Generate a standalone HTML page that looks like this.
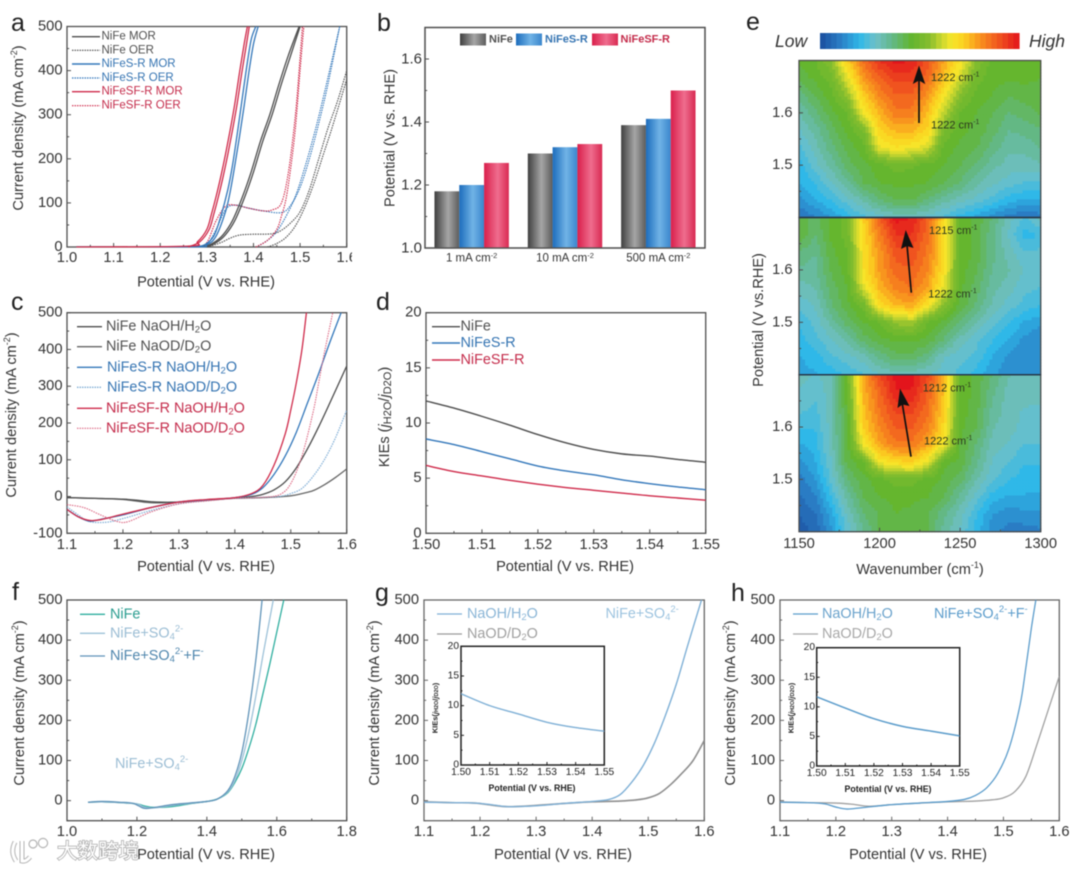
<!DOCTYPE html>
<html lang="en">
<head>
<meta charset="utf-8">
<title>NiFe electrocatalyst figure</title>
<style>
html,body{margin:0;padding:0;background:#fff;width:1080px;height:871px;overflow:hidden}
#figure{display:block;filter:blur(0.45px)}
text{font-family:"Liberation Sans","Noto Sans CJK SC",sans-serif;fill:#333}
.t14{font-size:14.6px}
.leg-a{font-size:11.5px}
.leg-c{font-size:14.4px}
.heat{font-size:11px;fill:#2c3a20}
.letter{font-size:25px;fill:#222}
.gray{fill:#505050}.blue{fill:#3574b2}.red{fill:#c42c4b}
</style>
</head>
<body>
<svg id="figure" xmlns="http://www.w3.org/2000/svg" width="1080" height="871" viewBox="0 0 1080 871">
<defs>
<linearGradient id="gBarGray"><stop offset="0" stop-color="#3f3f3f"/><stop offset=".55" stop-color="#a6a6a6"/><stop offset="1" stop-color="#5c5c5c"/></linearGradient>
<linearGradient id="gBarBlue"><stop offset="0" stop-color="#1d6cbc"/><stop offset=".55" stop-color="#70b3e6"/><stop offset="1" stop-color="#3a86cd"/></linearGradient>
<linearGradient id="gBarRed"><stop offset="0" stop-color="#d91f4b"/><stop offset=".55" stop-color="#ef6d8e"/><stop offset="1" stop-color="#d92a52"/></linearGradient>
</defs>
<g id="layer-heat"></g>
<g id="layer-plots"></g>

<rect x="352" y="250" width="20" height="18" fill="#fff"/>

<!-- panel letters -->
<text class="letter" x="11" y="31">a</text>
<text class="letter" x="377" y="31">b</text>
<text class="letter" x="11" y="310">c</text>
<text class="letter" x="376" y="310">d</text>
<text class="letter" x="746" y="30">e</text>
<text class="letter" x="12" y="600">f</text>
<text class="letter" x="375" y="601">g</text>
<text class="letter" x="731" y="601">h</text>

<!-- axis titles -->
<text class="t14" x="206" y="282.5" text-anchor="middle" dominant-baseline="central">Potential (V vs. RHE)</text>
<text class="t14" transform="translate(19,128) rotate(-90)" text-anchor="middle" dominant-baseline="central">Current density (mA cm<tspan dy="-5" font-size="9">-2</tspan><tspan dy="5">)</tspan></text>
<text class="t14" transform="translate(390.5,138) rotate(-90)" text-anchor="middle" dominant-baseline="central">Potential (V vs. RHE)</text>
<text class="t14" x="206" y="567" text-anchor="middle" dominant-baseline="central">Potential (V vs. RHE)</text>
<text class="t14" transform="translate(12,415) rotate(-90)" text-anchor="middle" dominant-baseline="central">Current density (mA cm<tspan dy="-5" font-size="9">-2</tspan><tspan dy="5">)</tspan></text>
<text class="t14" x="565" y="567" text-anchor="middle" dominant-baseline="central">Potential (V vs. RHE)</text>
<text class="t14" transform="translate(385,417) rotate(-90)" text-anchor="middle" dominant-baseline="central">KIEs (<tspan font-style="italic">j</tspan><tspan dy="3" font-size="11">H2O</tspan><tspan dy="-3">/</tspan><tspan font-style="italic">j</tspan><tspan dy="3" font-size="11">D2O</tspan><tspan dy="-3">)</tspan></text>
<text class="t14" x="206" y="855" text-anchor="middle" dominant-baseline="central">Potential (V vs. RHE)</text>
<text class="t14" transform="translate(20,703) rotate(-90)" text-anchor="middle" dominant-baseline="central">Current density (mA cm<tspan dy="-5" font-size="9">-2</tspan><tspan dy="5">)</tspan></text>
<text class="t14" x="563" y="855" text-anchor="middle" dominant-baseline="central">Potential (V vs. RHE)</text>
<text class="t14" transform="translate(375,703) rotate(-90)" text-anchor="middle" dominant-baseline="central">Current density (mA cm<tspan dy="-5" font-size="9">-2</tspan><tspan dy="5">)</tspan></text>
<text class="t14" x="918" y="855" text-anchor="middle" dominant-baseline="central">Potential (V vs. RHE)</text>
<text class="t14" transform="translate(731,703) rotate(-90)" text-anchor="middle" dominant-baseline="central">Current density (mA cm<tspan dy="-5" font-size="9">-2</tspan><tspan dy="5">)</tspan></text>
<text class="t14" x="920" y="570" text-anchor="middle" dominant-baseline="central">Wavenumber (cm<tspan dy="-5" font-size="9">-1</tspan><tspan dy="5">)</tspan></text>
<text class="t14" transform="translate(759,320) rotate(-90)" text-anchor="middle" dominant-baseline="central">Potential (V vs.RHE)</text>

<!-- legend a -->
<g>
<line x1="72" x2="100" y1="36.7" y2="36.7" stroke="#4d4d4d" stroke-width="1.4"/><text class="leg-a gray" x="101.5" y="36.7" dominant-baseline="central">NiFe MOR</text>
<line x1="72" x2="100" y1="50.3" y2="50.3" stroke="#4d4d4d" stroke-width="1.2" stroke-dasharray="1.5 1"/><text class="leg-a gray" x="101.5" y="50.3" dominant-baseline="central">NiFe OER</text>
<line x1="72" x2="100" y1="64" y2="64" stroke="#3377ba" stroke-width="1.4"/><text class="leg-a blue" x="101.5" y="64" dominant-baseline="central">NiFeS-R MOR</text>
<line x1="72" x2="100" y1="78" y2="78" stroke="#3377ba" stroke-width="1.2" stroke-dasharray="1.5 1"/><text class="leg-a blue" x="101.5" y="78" dominant-baseline="central">NiFeS-R OER</text>
<line x1="72" x2="100" y1="91.7" y2="91.7" stroke="#cf2a4a" stroke-width="1.4"/><text class="leg-a red" x="101.5" y="91.7" dominant-baseline="central">NiFeSF-R MOR</text>
<line x1="72" x2="100" y1="105.7" y2="105.7" stroke="#cf2a4a" stroke-width="1.2" stroke-dasharray="1.5 1"/><text class="leg-a red" x="101.5" y="105.7" dominant-baseline="central">NiFeSF-R OER</text>
</g>

<!-- legend b -->
<g>
<rect x="460" y="33.5" width="26" height="12" fill="url(#gBarGray)"/><text x="489" y="39.5" font-size="11" font-weight="bold" class="gray" dominant-baseline="central">NiFe</text>
<rect x="516" y="33.5" width="26" height="12" fill="url(#gBarBlue)"/><text x="545" y="39.5" font-size="11" font-weight="bold" class="blue" dominant-baseline="central">NiFeS-R</text>
<rect x="592" y="33.5" width="26" height="12" fill="url(#gBarRed)"/><text x="620.5" y="39.5" font-size="11" font-weight="bold" class="red" dominant-baseline="central">NiFeSF-R</text>
</g>

<!-- legend c -->
<g>
<line x1="77" x2="102" y1="326.7" y2="326.7" stroke="#4d4d4d" stroke-width="1.4"/><text class="leg-c gray" x="106" y="326.7" dominant-baseline="central">NiFe NaOH/H<tspan dy="3" font-size="9.5">2</tspan><tspan dy="-3">O</tspan></text>
<line x1="77" x2="102" y1="346.7" y2="346.7" stroke="#666" stroke-width="1.4"/><text class="leg-c gray" x="106" y="346.7" dominant-baseline="central">NiFe NaOD/D<tspan dy="3" font-size="9.5">2</tspan><tspan dy="-3">O</tspan></text>
<line x1="77" x2="102" y1="367.3" y2="367.3" stroke="#3377ba" stroke-width="1.4"/><text class="leg-c blue" x="107" y="367.3" dominant-baseline="central">NiFeS-R NaOH/H<tspan dy="3" font-size="9.5">2</tspan><tspan dy="-3">O</tspan></text>
<line x1="77" x2="102" y1="387.3" y2="387.3" stroke="#80aed6" stroke-width="1.3" stroke-dasharray="1.5 1"/><text class="leg-c blue" x="107" y="387.3" dominant-baseline="central">NiFeS-R NaOD/D<tspan dy="3" font-size="9.5">2</tspan><tspan dy="-3">O</tspan></text>
<line x1="77" x2="102" y1="408.3" y2="408.3" stroke="#cf2a4a" stroke-width="1.4"/><text class="leg-c red" x="106" y="408.3" dominant-baseline="central">NiFeSF-R NaOH/H<tspan dy="3" font-size="9.5">2</tspan><tspan dy="-3">O</tspan></text>
<line x1="77" x2="102" y1="428.3" y2="428.3" stroke="#dd6a85" stroke-width="1.2" stroke-dasharray="1.5 1"/><text class="leg-c red" x="106" y="428.3" dominant-baseline="central">NiFeSF-R NaOD/D<tspan dy="3" font-size="9.5">2</tspan><tspan dy="-3">O</tspan></text>
</g>

<!-- legend d -->
<g>
<line x1="432" x2="460" y1="326.7" y2="326.7" stroke="#4d4d4d" stroke-width="1.4"/><text class="leg-c gray" x="460.5" y="326.7" dominant-baseline="central">NiFe</text>
<line x1="432" x2="460" y1="343" y2="343" stroke="#3377ba" stroke-width="1.4"/><text class="leg-c blue" x="460.5" y="343" dominant-baseline="central">NiFeS-R</text>
<line x1="432" x2="460" y1="360" y2="360" stroke="#cf2a4a" stroke-width="1.4"/><text class="leg-c red" x="460.5" y="360" dominant-baseline="central">NiFeSF-R</text>
</g>

<!-- e colorbar labels and annotations -->
<text x="775" y="41" font-size="17.5" font-style="italic" dominant-baseline="central">Low</text>
<text x="1029" y="41" font-size="17.5" font-style="italic" dominant-baseline="central">High</text>
<g id="layer-arrows">
<line x1="919" y1="123" x2="919" y2="76" stroke="#111" stroke-width="1.7"/><polygon points="919,65.5 912.8,84 919,80.5 925.2,84" fill="#111"/>
<line x1="911.3" y1="292.7" x2="907" y2="245" stroke="#111" stroke-width="1.7"/><polygon points="905.7,230 901,249 907,246 913.5,248" fill="#111"/>
<line x1="911" y1="456.7" x2="902" y2="402" stroke="#111" stroke-width="1.7"/><polygon points="900,388.5 897.5,408 902.5,404.5 909.5,406" fill="#111"/>
</g>
<text class="heat" x="931" y="78" dominant-baseline="central">1222 cm<tspan dy="-3.5" font-size="7">-1</tspan></text>
<text class="heat" x="931" y="125.7" dominant-baseline="central">1222 cm<tspan dy="-3.5" font-size="7">-1</tspan></text>
<text class="heat" x="929" y="231" dominant-baseline="central">1215 cm<tspan dy="-3.5" font-size="7">-1</tspan></text>
<text class="heat" x="928.3" y="294.3" dominant-baseline="central">1222 cm<tspan dy="-3.5" font-size="7">-1</tspan></text>
<text class="heat" x="922.7" y="388.3" dominant-baseline="central">1212 cm<tspan dy="-3.5" font-size="7">-1</tspan></text>
<text class="heat" x="924" y="441.7" dominant-baseline="central">1222 cm<tspan dy="-3.5" font-size="7">-1</tspan></text>

<!-- legend f -->
<g>
<line x1="80" x2="105" y1="614.3" y2="614.3" stroke="#2fae9f" stroke-width="1.3"/><text class="leg-c" style="fill:#2b9d90" x="110" y="614.3" dominant-baseline="central">NiFe</text>
<line x1="80" x2="105" y1="633.3" y2="633.3" stroke="#9cc1d8" stroke-width="1.3"/><text class="leg-c" style="fill:#9bbdd4" x="110" y="633.3" dominant-baseline="central">NiFe+SO<tspan dy="3" font-size="9.5">4</tspan><tspan dy="-8" font-size="9.5">2-</tspan></text>
<line x1="80" x2="105" y1="656" y2="656" stroke="#5f93b8" stroke-width="1.3"/><text class="leg-c" style="fill:#4f86ad" x="110" y="656" dominant-baseline="central">NiFe+SO<tspan dy="3" font-size="9.5">4</tspan><tspan dy="-8" font-size="9.5">2-</tspan><tspan dy="5">+F</tspan><tspan dy="-5" font-size="9.5">-</tspan></text>
</g>
<text class="leg-c" style="fill:#9bbdd4" x="115" y="764" dominant-baseline="central">NiFe+SO<tspan dy="3" font-size="9.5">4</tspan><tspan dy="-8" font-size="9.5">2-</tspan></text>

<!-- legend g -->
<g>
<line x1="437" x2="462" y1="614" y2="614" stroke="#7fb0d6" stroke-width="1.3"/><text class="leg-c" style="fill:#8ab5d6" x="467" y="614" dominant-baseline="central">NaOH/H<tspan dy="3" font-size="9.5">2</tspan><tspan dy="-3">O</tspan></text>
<line x1="437" x2="462" y1="634" y2="634" stroke="#9a9a9a" stroke-width="1.3"/><text class="leg-c" style="fill:#a0a0a0" x="467" y="634" dominant-baseline="central">NaOD/D<tspan dy="3" font-size="9.5">2</tspan><tspan dy="-3">O</tspan></text>
</g>
<text class="leg-c" style="fill:#9cc3df" x="605.5" y="614" dominant-baseline="central">NiFe+SO<tspan dy="3" font-size="9.5">4</tspan><tspan dy="-8" font-size="9.5">2-</tspan></text>

<!-- legend h -->
<g>
<line x1="793" x2="818" y1="614" y2="614" stroke="#5b9ccb" stroke-width="1.3"/><text class="leg-c" style="fill:#6ba3cc" x="822" y="614" dominant-baseline="central">NaOH/H<tspan dy="3" font-size="9.5">2</tspan><tspan dy="-3">O</tspan></text>
<line x1="793" x2="818" y1="634" y2="634" stroke="#a8a8a8" stroke-width="1.3"/><text class="leg-c" style="fill:#a8a8a8" x="822" y="634" dominant-baseline="central">NaOD/D<tspan dy="3" font-size="9.5">2</tspan><tspan dy="-3">O</tspan></text>
</g>
<text class="leg-c" style="fill:#5b9ccb" x="934" y="614" dominant-baseline="central">NiFe+SO<tspan dy="3" font-size="9.5">4</tspan><tspan dy="-8" font-size="9.5">2-</tspan><tspan dy="5">+F</tspan><tspan dy="-5" font-size="9.5">-</tspan></text>

<!-- inset axis titles -->
<text x="532" y="788" text-anchor="middle" dominant-baseline="central" font-size="8.8" font-weight="bold" style="fill:#222">Potential (V vs. RHE)</text>
<text transform="translate(435,708) rotate(-90)" text-anchor="middle" dominant-baseline="central" font-size="7.5" font-weight="bold" style="fill:#222">KIEs(<tspan font-style="italic">j</tspan><tspan dy="2" font-size="5.5">H2O</tspan><tspan dy="-2">/</tspan><tspan font-style="italic">j</tspan><tspan dy="2" font-size="5.5">D2O</tspan><tspan dy="-2">)</tspan></text>
<text x="888" y="789" text-anchor="middle" dominant-baseline="central" font-size="8.8" font-weight="bold" style="fill:#222">Potential (V vs. RHE)</text>
<text transform="translate(791,708) rotate(-90)" text-anchor="middle" dominant-baseline="central" font-size="7.5" font-weight="bold" style="fill:#222">KIEs(<tspan font-style="italic">j</tspan><tspan dy="2" font-size="5.5">H2O</tspan><tspan dy="-2">/</tspan><tspan font-style="italic">j</tspan><tspan dy="2" font-size="5.5">D2O</tspan><tspan dy="-2">)</tspan></text>

<!-- watermark -->
<g>
<path d="M15 842 Q10 852 16 861 M22 841 L22 861 Q26 862 30 857" fill="none" stroke="#b4b4b4" stroke-width="5"/>
<path d="M15 842 Q10 852 16 861 M22 841 L22 861 Q26 862 30 857" fill="none" stroke="#fff" stroke-width="3"/>
<circle cx="33" cy="844" r="4" fill="#fff" stroke="#b4b4b4" stroke-width="1.2"/>
<circle cx="43" cy="843" r="4.6" fill="#fff" stroke="#b4b4b4" stroke-width="1.2"/>
<text x="57" y="858" font-size="20.5" style="fill:#fff;stroke:#aaa;stroke-width:1.5;paint-order:stroke;font-family:'Liberation Sans','Noto Sans CJK SC',sans-serif">大数跨境</text>
</g>
</svg>

<script>
/* ---------- panel a data ---------- */
const aNiFeMorFwdV=[1.02,1.25,1.30,1.32,1.34,1.36,1.38,1.40,1.42,1.44,1.46,1.48,1.50];
const aNiFeMorFwdJ=[0,0,2,10,28,60,110,170,240,300,370,435,500];
const aNiFeMorRevV=[1.25,1.295,1.315,1.335,1.355,1.375,1.395,1.415,1.435,1.455,1.475,1.498];
const aNiFeMorRevJ=[0,2,10,28,60,110,170,240,300,370,435,500];
const aNiFeSMorFwdV=[1.02,1.27,1.30,1.32,1.34,1.35,1.36,1.37,1.38,1.39,1.40,1.41];
const aNiFeSMorFwdJ=[0,0,5,25,80,125,185,250,320,395,460,500];
const aNiFeSMorRevV=[1.27,1.295,1.315,1.33,1.345,1.355,1.365,1.375,1.385,1.395,1.405];
const aNiFeSMorRevJ=[0,5,25,70,130,185,255,330,405,470,500];
const aNiFeSFMorFwdV=[1.02,1.26,1.28,1.30,1.31,1.32,1.33,1.34,1.35,1.36,1.37,1.38,1.387];
const aNiFeSFMorFwdJ=[0,2,12,40,75,115,160,210,265,325,395,460,500];
const aNiFeSFMorRevV=[1.26,1.285,1.305,1.315,1.325,1.335,1.345,1.355,1.365,1.375,1.385,1.391];
const aNiFeSFMorRevJ=[0,12,40,75,115,160,210,265,325,395,460,500];
const aNiFeOerFwdV=[1.29,1.31,1.33,1.35,1.37,1.40,1.44,1.46,1.48,1.50,1.52,1.54,1.56,1.58,1.60];
const aNiFeOerFwdJ=[0,3,10,20,27,29,30,38,55,80,130,200,270,330,400];
const aNiFeOerRevV=[1.43,1.45,1.47,1.49,1.51,1.53,1.55,1.57,1.60];
const aNiFeOerRevJ=[0,8,22,48,90,145,210,275,380];
const aNiFeSOerFwdV=[1.28,1.30,1.32,1.34,1.36,1.39,1.42,1.46,1.48,1.50,1.52,1.54,1.56,1.585];
const aNiFeSOerFwdJ=[0,5,40,85,95,88,82,78,95,135,200,280,370,500];
const aNiFeSOerRevV=[1.41,1.43,1.45,1.47,1.49,1.51,1.53,1.55,1.585];
const aNiFeSOerRevJ=[2,15,35,70,115,180,255,340,500];
const aNiFeSFOerFwdV=[1.28,1.30,1.32,1.34,1.36,1.39,1.42,1.44,1.46,1.475,1.49,1.50,1.505];
const aNiFeSFOerFwdJ=[0,10,60,92,95,88,82,84,100,170,300,430,500];
const aNiFeSFOerRevV=[1.405,1.43,1.45,1.46,1.47,1.48,1.49,1.50,1.508];
const aNiFeSFOerRevJ=[0,15,40,70,110,180,270,400,500];
const aXTicks=['1.0','1.1','1.2','1.3','1.4','1.5','1.6'];
const aYTicks=['0','100','200','300','400','500'];

/* ---------- panel b data ---------- */
const bCategories=['1 mA cm','10 mA cm','500 mA cm'];
const bNiFe=[1.18,1.30,1.39];
const bNiFeS=[1.20,1.32,1.41];
const bNiFeSF=[1.27,1.33,1.50];
const bYTicks=['1.0','1.2','1.4','1.6'];

/* ---------- panel c data ---------- */
const cNiFeH2oV=[1.1,1.15,1.2,1.23,1.26,1.3,1.35,1.4,1.43,1.45,1.47,1.49,1.51,1.53,1.55,1.57,1.6];
const cNiFeH2oJ=[-3,-5,-7,-11,-15,-15,-10,-4,0,6,18,40,78,130,190,255,355];
const cNiFeD2oV=[1.1,1.15,1.2,1.25,1.3,1.35,1.4,1.45,1.5,1.52,1.54,1.56,1.58,1.6];
const cNiFeD2oJ=[-3,-5,-8,-17,-15,-10,-5,-3,2,8,16,32,52,75];
const cNiFeSH2oV=[1.1,1.12,1.14,1.16,1.2,1.25,1.3,1.35,1.4,1.43,1.45,1.47,1.49,1.51,1.53,1.55,1.57,1.59];
const cNiFeSH2oJ=[-35,-55,-67,-62,-50,-30,-15,-9,-3,6,24,60,110,175,255,335,420,500];
const cNiFeSD2oV=[1.1,1.12,1.14,1.17,1.2,1.25,1.3,1.35,1.4,1.45,1.48,1.5,1.52,1.54,1.56,1.58,1.6];
const cNiFeSD2oJ=[-28,-50,-68,-70,-60,-38,-20,-11,-5,-2,0,8,22,55,100,160,235];
const cNiFeSFH2oV=[1.1,1.12,1.14,1.16,1.2,1.25,1.3,1.35,1.4,1.43,1.45,1.47,1.49,1.5,1.51,1.52,1.528];
const cNiFeSFH2oJ=[-35,-55,-65,-63,-48,-30,-15,-8,-3,8,30,85,170,235,310,400,500];
const cNiFeSFD2oV=[1.1,1.13,1.16,1.19,1.21,1.25,1.3,1.35,1.4,1.45,1.48,1.5,1.52,1.54,1.55,1.56,1.575];
const cNiFeSFD2oJ=[-22,-30,-50,-68,-68,-42,-20,-12,-5,-2,5,35,110,230,310,390,500];
const cXTicks=['1.1','1.2','1.3','1.4','1.5','1.6'];
const cYTicks=['-100','0','100','200','300','400','500'];

/* ---------- panel d data ---------- */
const dPotential=[1.50,1.505,1.51,1.515,1.52,1.525,1.53,1.535,1.54,1.545,1.55];
const dNiFe=[12.0,11.35,10.6,9.8,8.95,8.2,7.6,7.2,7.0,6.7,6.45];
const dNiFeS=[8.55,8.05,7.4,6.75,6.1,5.65,5.3,4.85,4.5,4.2,3.95];
const dNiFeSF=[6.15,5.6,5.2,4.8,4.45,4.15,3.9,3.65,3.4,3.2,3.0];
const dXTicks=['1.50','1.51','1.52','1.53','1.54','1.55'];
const dYTicks=['0','5','10','15','20'];

/* ---------- panel e data ---------- */
const eWavenumbers=[1150,1160,1170,1180,1190,1200,1210,1220,1230,1240,1250,1260,1270,1280,1290,1300];
const ePotentials=[1.7,1.667,1.633,1.6,1.567,1.533,1.5,1.467,1.433,1.4];
const eIntensity1=[
[.46,.48,.55,.72,.86,.95,1.0,.98,.9,.78,.68,.55,.47,.46,.46,.46],
[.43,.46,.50,.64,.80,.88,.93,.93,.86,.74,.62,.5,.46,.46,.46,.45],
[.36,.42,.47,.56,.72,.82,.88,.88,.80,.67,.54,.47,.45,.42,.43,.44],
[.32,.37,.44,.48,.66,.76,.84,.84,.74,.60,.48,.45,.42,.38,.40,.42],
[.28,.33,.40,.46,.52,.71,.76,.76,.71,.52,.46,.44,.40,.35,.36,.38],
[.24,.30,.37,.43,.47,.64,.68,.66,.62,.47,.44,.42,.37,.33,.33,.35],
[.20,.27,.33,.40,.44,.47,.50,.49,.47,.45,.42,.38,.33,.30,.30,.31],
[.18,.22,.28,.34,.42,.45,.46,.46,.45,.42,.38,.33,.29,.27,.25,.25],
[.14,.18,.22,.27,.32,.38,.42,.42,.38,.33,.3,.27,.24,.2,.18,.18],
[.08,.11,.15,.2,.24,.27,.29,.29,.27,.24,.2,.17,.13,.1,.08,.1]];
const eIntensity2=[
[.45,.40,.46,.50,.72,.88,1.0,.98,.88,.70,.48,.44,.38,.3,.24,.3],
[.45,.38,.46,.50,.70,.83,.95,.95,.86,.70,.48,.44,.36,.28,.2,.22],
[.38,.35,.44,.48,.68,.80,.90,.91,.84,.70,.48,.44,.36,.3,.25,.26],
[.34,.34,.42,.47,.68,.79,.87,.88,.82,.68,.47,.42,.35,.32,.28,.27],
[.3,.32,.4,.45,.64,.76,.83,.85,.78,.64,.46,.4,.33,.3,.26,.25],
[.26,.29,.38,.44,.50,.70,.76,.78,.68,.54,.44,.38,.31,.27,.24,.22],
[.22,.26,.33,.4,.45,.48,.56,.58,.48,.44,.38,.32,.26,.22,.18,.16],
[.2,.24,.28,.33,.4,.44,.46,.46,.44,.38,.3,.26,.22,.18,.14,.12],
[.18,.2,.24,.27,.3,.36,.4,.4,.36,.28,.26,.24,.18,.14,.12,.12],
[.17,.18,.2,.22,.25,.28,.3,.3,.28,.27,.24,.2,.16,.13,.13,.13]];
const eIntensity3=[
[.3,.28,.3,.50,.78,.92,1.0,1.0,.92,.76,.48,.44,.38,.32,.3,.3],
[.28,.26,.3,.48,.76,.87,.98,.98,.88,.74,.47,.44,.36,.3,.3,.29],
[.26,.24,.3,.46,.74,.85,.93,.93,.86,.72,.47,.43,.34,.3,.28,.28],
[.22,.22,.3,.45,.72,.82,.89,.89,.83,.70,.46,.42,.32,.3,.27,.27],
[.18,.2,.3,.44,.66,.78,.84,.84,.78,.66,.45,.38,.3,.28,.25,.25],
[.14,.18,.28,.43,.48,.66,.70,.72,.64,.46,.44,.36,.28,.25,.22,.22],
[.1,.15,.26,.38,.44,.47,.5,.5,.47,.44,.4,.32,.26,.22,.2,.2],
[.08,.11,.22,.33,.42,.45,.46,.46,.45,.42,.34,.27,.2,.18,.18,.18],
[.05,.08,.17,.29,.38,.42,.45,.44,.42,.36,.3,.22,.15,.13,.14,.14],
[.03,.06,.14,.26,.35,.42,.44,.44,.42,.33,.28,.2,.13,.1,.1,.11]];
const eXTicks=['1150','1200','1250','1300'];
const eYTicks=['1.5','1.6'];
const colorStopValues=[0,.1,.2,.28,.36,.46,.55,.61,.66,.72,.79,.88,1];
const colorStopColors=['#1b4d9e','#2a7cc4','#2fb8e8','#6fc0c8','#63b88a','#62b52e','#86bd2e','#c8d62f','#f6e62a','#fbd220','#f99c1e','#f2601f','#e3141c'];

/* ---------- panel f data ---------- */
const fNiFeV=[1.06,1.1,1.15,1.2,1.22,1.25,1.3,1.35,1.4,1.43,1.46,1.48,1.5,1.52,1.54,1.56,1.58,1.6,1.62];
const fNiFeJ=[-4,-3,-5,-8,-13,-17,-15,-8,-2,4,20,45,80,130,190,265,340,420,500];
const fSo4V=[1.06,1.1,1.15,1.2,1.22,1.25,1.3,1.35,1.4,1.43,1.46,1.48,1.5,1.52,1.54,1.56,1.59];
const fSo4J=[-4,-3,-5,-8,-16,-18,-12,-7,-2,4,22,50,100,170,260,360,500];
const fSo4FV=[1.06,1.1,1.15,1.19,1.22,1.25,1.3,1.35,1.4,1.43,1.46,1.48,1.5,1.52,1.54,1.558];
const fSo4FJ=[-4,-2,-4,-7,-19,-17,-10,-6,-2,4,25,60,120,220,350,500];
const fXTicks=['1.0','1.2','1.4','1.6','1.8'];
const fYTicks=['0','100','200','300','400','500'];

/* ---------- panel g data ---------- */
const gH2oV=[1.1,1.15,1.19,1.22,1.25,1.3,1.35,1.4,1.43,1.45,1.47,1.49,1.51,1.53,1.55,1.57,1.595];
const gH2oJ=[-4,-5,-6,-10,-15,-13,-7,-2,3,15,45,85,140,210,290,385,500];
const gD2oV=[1.1,1.15,1.19,1.22,1.25,1.3,1.35,1.4,1.45,1.48,1.5,1.52,1.54,1.56,1.58,1.6];
const gD2oJ=[-3,-5,-6,-11,-15,-12,-7,-3,-1,2,7,18,40,68,100,150];
const gInsetV=[1.50,1.51,1.52,1.53,1.54,1.55];
const gInsetKie=[12,10,8.6,7.2,6.3,5.7];

/* ---------- panel h data ---------- */
const hH2oV=[1.1,1.15,1.18,1.2,1.22,1.25,1.3,1.35,1.4,1.43,1.45,1.47,1.49,1.51,1.53,1.54,1.55,1.558];
const hH2oJ=[-4,-5,-8,-16,-21,-17,-10,-6,-2,3,13,32,68,130,240,330,430,500];
const hD2oV=[1.1,1.15,1.2,1.23,1.26,1.3,1.35,1.4,1.45,1.48,1.5,1.52,1.54,1.56,1.58,1.6];
const hD2oJ=[-3,-5,-6,-9,-14,-10,-6,-3,-1,2,7,22,60,140,225,310];
const hInsetV=[1.50,1.51,1.52,1.53,1.54,1.55];
const hInsetKie=[11.7,9.8,8.0,6.7,5.9,5.1];
const insetXTicks=['1.50','1.51','1.52','1.53','1.54','1.55'];
const insetYTicks=['0','5','10','15','20'];

/* ---------- drawing helpers ---------- */
const NS='http://www.w3.org/2000/svg';
const plots=document.getElementById('layer-plots');
const heat=document.getElementById('layer-heat');
function mk(tag,parent){return parent.appendChild(document.createElementNS(NS,tag));}
function linear(d0,d1,r0,r1){return v=>r0+(v-d0)*(r1-r0)/(d1-d0);}
function smoothPath(pts){
  let d='M'+pts[0][0].toFixed(2)+' '+pts[0][1].toFixed(2);
  for(let i=0;i<pts.length-1;i++){
    const p0=pts[Math.max(0,i-1)],p1=pts[i],p2=pts[i+1],p3=pts[Math.min(pts.length-1,i+2)];
    const c1=[p1[0]+(p2[0]-p0[0])/6,p1[1]+(p2[1]-p0[1])/6];
    const c2=[p2[0]-(p3[0]-p1[0])/6,p2[1]-(p3[1]-p1[1])/6];
    d+='C'+c1[0].toFixed(2)+' '+c1[1].toFixed(2)+' '+c2[0].toFixed(2)+' '+c2[1].toFixed(2)+' '+p2[0].toFixed(2)+' '+p2[1].toFixed(2);
  }
  return d;
}
function tick(g,x1,y1,x2,y2,color,name){
  const l=mk('line',g);
  l.setAttribute('x1',x1);l.setAttribute('y1',y1);l.setAttribute('x2',x2);l.setAttribute('y2',y2);
  l.setAttribute('stroke',color);l.setAttribute('stroke-width','1');
  
  
}
function label(g,x,y,str,size,anchor,name,color){
  const t=mk('text',g);
  t.setAttribute('x',x);t.setAttribute('y',y);t.setAttribute('font-size',size);
  t.setAttribute('text-anchor',anchor);t.setAttribute('dominant-baseline','central');
  if(color)t.style.fill=color;
  t.textContent=str;
  
  
  return t;
}
function minors(ticks,d0,d1){
  const out=[];
  if(ticks.length<2)return out;
  const n=ticks.map(parseFloat),step=n[1]-n[0];
  for(let v=n[0]-step/2;v<=d1+1e-9;v+=step){if(v>=d0-1e-9)out.push(v);}
  return out;
}
function axes(key,box,xd,yd,xTicks,yTicks,o){
  o=o||{};
  const g=mk('g',plots);
  
  
  const sx=linear(xd[0],xd[1],box.l,box.r),sy=linear(yd[0],yd[1],box.b,box.t);
  const col=o.color||'#4f4f4f',fs=o.fs||14.7,tl=o.tickLen||4,ml=o.minorLen||2.2;
  const xLY=o.xLabelY,yLX=o.yLabelX;
  xTicks.forEach(s=>{
    const v=parseFloat(s);
    tick(g,sx(v),box.b,sx(v),box.b-tl,col,key+'-x-tick');
    label(g,sx(v),xLY,s,fs,'middle',key+'-x-tick-label',o.labelColor);
  });
  minors(xTicks,xd[0],xd[1]).forEach(v=>tick(g,sx(v),box.b,sx(v),box.b-ml,col,key+'-x-minor-tick'));
  yTicks.forEach(s=>{
    const v=parseFloat(s);
    tick(g,box.l,sy(v),box.l+tl,sy(v),col,key+'-y-tick');
    label(g,yLX,sy(v),s,fs,'end',key+'-y-tick-label',o.labelColor);
  });
  minors(yTicks,yd[0],yd[1]).forEach(v=>tick(g,box.l,sy(v),box.l+ml,sy(v),col,key+'-y-minor-tick'));
  if(!o.noFrame){
    const r=mk('rect',g);
    r.setAttribute('x',box.l);r.setAttribute('y',box.t);
    r.setAttribute('width',box.r-box.l);r.setAttribute('height',box.b-box.t);
    r.setAttribute('fill','none');r.setAttribute('stroke',col);r.setAttribute('stroke-width',o.frameWidth||1.3);
    
    
  }
  const cid='clip-'+key;
  const c=mk('clipPath',g);c.setAttribute('id',cid);
  const cr=mk('rect',c);
  cr.setAttribute('x',box.l);cr.setAttribute('y',box.t-0.5);
  cr.setAttribute('width',box.r-box.l);cr.setAttribute('height',box.b-box.t+1);
  return {x:sx,y:sy,clip:cid};
}
function curve(ax,xs,ys,color,dash,width,name){
  const p=mk('path',plots);
  p.setAttribute('d',smoothPath(xs.map((v,i)=>[ax.x(v),ax.y(ys[i])])));
  p.setAttribute('fill','none');p.setAttribute('stroke',color);
  p.setAttribute('stroke-width',width||1.3);
  if(dash)p.setAttribute('stroke-dasharray','1.5 1');
  p.setAttribute('clip-path','url(#'+ax.clip+')');
  
  
}

/* ---------- panel a ---------- */
const GRAY='#4d4d4d',BLUE='#3377ba',RED='#cf2a4a';
const axA=axes('a',{l:67,r:346.7,t:26.5,b:247},[1.0,1.6],[0,500],aXTicks,aYTicks,{xLabelY:258,yLabelX:62.5});
curve(axA,aNiFeOerFwdV,aNiFeOerFwdJ,GRAY,true,1.1,'nife-oer-forward');
curve(axA,aNiFeOerRevV,aNiFeOerRevJ,GRAY,true,1.1,'nife-oer-reverse');
curve(axA,aNiFeSOerFwdV,aNiFeSOerFwdJ,BLUE,true,1.1,'nifes-oer-forward');
curve(axA,aNiFeSOerRevV,aNiFeSOerRevJ,BLUE,true,1.1,'nifes-oer-reverse');
curve(axA,aNiFeSFOerFwdV,aNiFeSFOerFwdJ,RED,true,1.1,'nifesf-oer-forward');
curve(axA,aNiFeSFOerRevV,aNiFeSFOerRevJ,RED,true,1.1,'nifesf-oer-reverse');
curve(axA,aNiFeMorFwdV,aNiFeMorFwdJ,GRAY,false,1.3,'nife-mor-forward');
curve(axA,aNiFeMorRevV,aNiFeMorRevJ,GRAY,false,1.3,'nife-mor-reverse');
curve(axA,aNiFeSMorFwdV,aNiFeSMorFwdJ,BLUE,false,1.3,'nifes-mor-forward');
curve(axA,aNiFeSMorRevV,aNiFeSMorRevJ,BLUE,false,1.3,'nifes-mor-reverse');
curve(axA,aNiFeSFMorFwdV,aNiFeSFMorFwdJ,RED,false,1.3,'nifesf-mor-forward');
curve(axA,aNiFeSFMorRevV,aNiFeSFMorRevJ,RED,false,1.3,'nifesf-mor-reverse');

/* ---------- panel b ---------- */
const boxB={l:425,r:705,t:27.5,b:248};
const axB=axes('b',boxB,[0,3],[1.0,1.7],[],bYTicks,{yLabelX:422,fs:15});
const barWidth=24.8;
const barSeries=[[bNiFe,'url(#gBarGray)','nife'],[bNiFeS,'url(#gBarBlue)','nifes'],[bNiFeSF,'url(#gBarRed)','nifesf']];
bCategories.forEach((cat,i)=>{
  const cx=axB.x(i+0.5);
  barSeries.forEach((s,j)=>{
    const r=mk('rect',plots);
    r.setAttribute('x',cx+(j-1.5)*barWidth);
    r.setAttribute('width',barWidth);
    r.setAttribute('y',axB.y(s[0][i]));
    r.setAttribute('height',axB.y(1.0)-axB.y(s[0][i]));
    r.setAttribute('fill',s[1]);
    
    
  });
  const t=label(plots,cx,258.5,cat,11.5,'middle','b-category-label');
  const sup=mk('tspan',t);
  sup.setAttribute('dy','-3.5');sup.setAttribute('font-size','7.5');
  sup.textContent='-2';
});
(function(){
  const r=mk('rect',plots);
  r.setAttribute('x',boxB.l);r.setAttribute('y',boxB.t);
  r.setAttribute('width',boxB.r-boxB.l);r.setAttribute('height',boxB.b-boxB.t);
  r.setAttribute('fill','none');r.setAttribute('stroke','#4f4f4f');r.setAttribute('stroke-width','1.3');
  
  
})();

/* ---------- panel c ---------- */
const axC=axes('c',{l:67,r:346.7,t:312.7,b:533.3},[1.1,1.6],[-100,500],cXTicks,cYTicks,{xLabelY:545,yLabelX:62.5});
curve(axC,cNiFeD2oV,cNiFeD2oJ,'#666',false,1.3,'nife-naod');
curve(axC,cNiFeH2oV,cNiFeH2oJ,GRAY,false,1.3,'nife-naoh');
curve(axC,cNiFeSD2oV,cNiFeSD2oJ,'#80aed6',true,1.2,'nifes-naod');
curve(axC,cNiFeSH2oV,cNiFeSH2oJ,BLUE,false,1.3,'nifes-naoh');
curve(axC,cNiFeSFD2oV,cNiFeSFD2oJ,'#dd6a85',true,1.1,'nifesf-naod');
curve(axC,cNiFeSFH2oV,cNiFeSFH2oJ,RED,false,1.3,'nifesf-naoh');

/* ---------- panel d ---------- */
const axD=axes('d',{l:426,r:705.7,t:312.7,b:533.3},[1.5,1.55],[0,20],dXTicks,dYTicks,{xLabelY:545,yLabelX:421.5});
curve(axD,dPotential,dNiFe,GRAY,false,1.4,'kie-nife');
curve(axD,dPotential,dNiFeS,BLUE,false,1.4,'kie-nifes');
curve(axD,dPotential,dNiFeSF,RED,false,1.4,'kie-nifesf');

/* ---------- panel e ---------- */
function hex(c){return [parseInt(c.substr(1,2),16),parseInt(c.substr(3,2),16),parseInt(c.substr(5,2),16)];}
function colormap(v){
  v=Math.max(0,Math.min(1,v));
  let i=0;
  while(i<colorStopValues.length-2&&v>colorStopValues[i+1])i++;
  const t=(v-colorStopValues[i])/(colorStopValues[i+1]-colorStopValues[i]);
  const a=hex(colorStopColors[i]),b=hex(colorStopColors[i+1]);
  return 'rgb('+a.map((q,k)=>Math.round(q+(b[k]-q)*t)).join(',')+')';
}
(function colorbar(){
  const sc=linear(0,1,820,1019),n=36;
  for(let i=0;i<n;i++){
    const r=mk('rect',heat);
    r.setAttribute('x',sc(i/n));r.setAttribute('y','33');
    r.setAttribute('width',sc(1/n)-sc(0)+0.6);r.setAttribute('height','16');
    r.setAttribute('fill',colormap((i+0.5)/n));
    
    
  }
})();
function heatPanel(key,rows,box,hasX){
  const sx=linear(1150,1300,box.l,box.r),sy=linear(1.7,1.4,box.t,box.b);
  const stepW=150/80,stepP=0.3/52,cols=eWavenumbers.length,nr=ePotentials.length;
  const levels=30;
  for(let iy=0;iy<52;iy++){
    const p0=1.7-iy*stepP,p1=p0-stepP,pm=(p0+p1)/2;
    const fy=Math.min((ePotentials[0]-pm)/(ePotentials[0]-ePotentials[nr-1])*(nr-1),nr-1.0001);
    const ry=Math.floor(fy),ty=fy-ry;
    for(let ix=0;ix<80;ix++){
      const w0=1150+ix*stepW,wm=w0+stepW/2;
      const fx=Math.min((wm-eWavenumbers[0])/(eWavenumbers[cols-1]-eWavenumbers[0])*(cols-1),cols-1.0001);
      const rx=Math.floor(fx),tx=fx-rx;
      const v=(rows[ry][rx]*(1-tx)+rows[ry][rx+1]*tx)*(1-ty)+(rows[ry+1][rx]*(1-tx)+rows[ry+1][rx+1]*tx)*ty;
      const r=mk('rect',heat);
      r.setAttribute('x',sx(w0).toFixed(2));
      r.setAttribute('y',sy(p0).toFixed(2));
      r.setAttribute('width',(sx(stepW+1150)-box.l+0.5).toFixed(2));
      r.setAttribute('height',(sy(1.7-stepP)-box.t+0.5).toFixed(2));
      r.setAttribute('fill',colormap(Math.round(v*levels)/levels));
      
      
    }
  }
  axes('e'+key,box,[1150,1300],[1.4,1.7],hasX?eXTicks:[],eYTicks,{xLabelY:544,yLabelX:792.5,fs:14.7,color:'#4c4c4c'});
}
heatPanel('1',eIntensity1,{l:799,r:1040.7,t:60.5,b:217.5},false);
heatPanel('2',eIntensity2,{l:799,r:1040.7,t:217.5,b:374.7},false);
heatPanel('3',eIntensity3,{l:799,r:1040.7,t:374.7,b:531.7},true);
(function(){
  [217.5,374.7].forEach(y=>{
    const l=mk('line',plots);
    l.setAttribute('x1','799');l.setAttribute('x2','1040.7');
    l.setAttribute('y1',y);l.setAttribute('y2',y);
    l.setAttribute('stroke','#26384a');l.setAttribute('stroke-width','1.5');
    
    
  });
})();

/* ---------- panel f ---------- */
const axF=axes('f',{l:67,r:346.7,t:600,b:820.7},[1.0,1.8],[-50,500],fXTicks,fYTicks,{xLabelY:832,yLabelX:62.5});
curve(axF,fNiFeV,fNiFeJ,'#2fae9f',false,1.3,'f-nife');
curve(axF,fSo4V,fSo4J,'#9cc1d8',false,1.3,'f-nife-so4');
curve(axF,fSo4FV,fSo4FJ,'#5f93b8',false,1.3,'f-nife-so4-f');

/* ---------- panel g ---------- */
const axG=axes('g',{l:424,r:704.3,t:600,b:820.7},[1.1,1.6],[-50,500],cXTicks,fYTicks,{xLabelY:832,yLabelX:419,color:'#666'});
curve(axG,gD2oV,gD2oJ,'#8f8f8f',false,1.6,'g-naod');
curve(axG,gH2oV,gH2oJ,'#7fb0d6',false,1.4,'g-naoh');
const axGi=axes('g-inset',{l:461,r:604.3,t:646.3,b:765},[1.5,1.55],[0,20],insetXTicks,insetYTicks,{xLabelY:772.5,yLabelX:459,fs:10.2,color:'#222',tickLen:3,minorLen:1.5,frameWidth:1.5,labelColor:'#222'});
curve(axGi,gInsetV,gInsetKie,'#7fb0d6',false,1.4,'g-inset-kie');

/* ---------- panel h ---------- */
const axH=axes('h',{l:780,r:1059.3,t:600,b:820.7},[1.1,1.6],[-50,500],cXTicks,fYTicks,{xLabelY:832,yLabelX:775,color:'#666'});
curve(axH,hD2oV,hD2oJ,'#a0a0a0',false,1.3,'h-naod');
curve(axH,hH2oV,hH2oJ,'#5b9ccb',false,1.3,'h-naoh');
const axHi=axes('h-inset',{l:816.7,r:959.7,t:647.7,b:766},[1.5,1.55],[0,20],insetXTicks,insetYTicks,{xLabelY:773.5,yLabelX:815,fs:10.2,color:'#222',tickLen:3,minorLen:1.5,frameWidth:1.5,labelColor:'#222'});
curve(axHi,hInsetV,hInsetKie,'#5b9ccb',false,1.5,'h-inset-kie');
</script>
</body>
</html>
